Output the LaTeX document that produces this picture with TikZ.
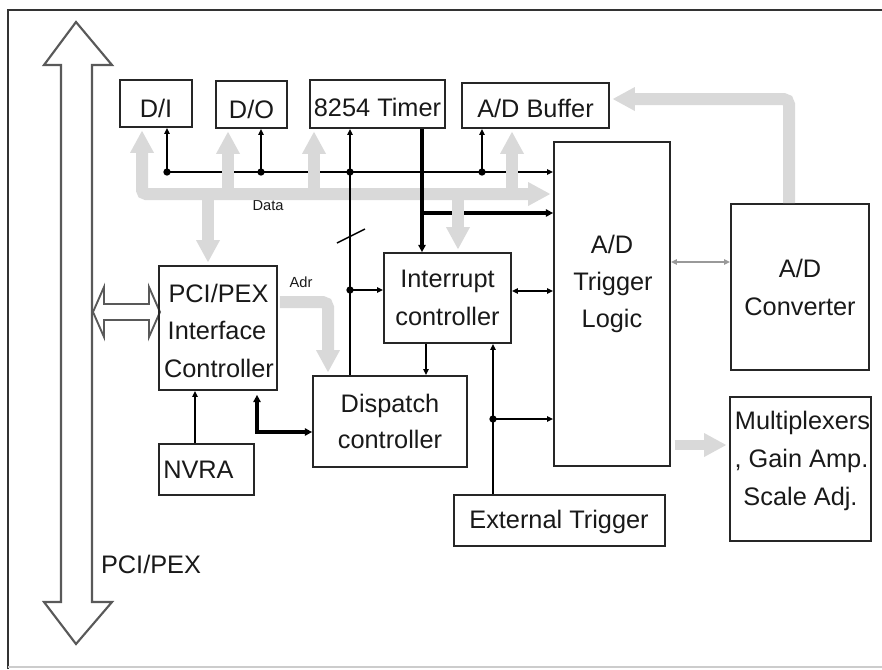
\documentclass[tikz,border=0pt]{standalone}
\usepackage{fontspec}
\setmainfont{Liberation Sans}
\usetikzlibrary{arrows.meta,fit,calc}
\begin{document}
\begin{tikzpicture}[x=0.75pt,y=-0.75pt,
  box/.style={draw=black!85, line width=1.3pt, inner sep=0pt},
  txt/.style={font=\fontsize{19}{19}\selectfont, inner sep=0pt, anchor=base, text=black!90},
  smalltxt/.style={font=\fontsize{11}{11}\selectfont, inner sep=0pt, anchor=base, text=black!90},
  thinline/.style={line width=1.1pt, draw=black},
  thickline/.style={line width=2.4pt, draw=black},
  tp/.tip={Triangle[length=4.5pt,width=4pt]},
  tpk/.tip={Triangle[length=5.5pt,width=5.5pt]},
  bt/.tip={Triangle[width=18pt,length=16.5pt,line width=0pt]},
  bus/.style={draw=gray!30, line width=9pt, shorten >=2.25pt},
  gthin/.style={line width=1.1pt, draw=gray!80},
  dot/.style={circle, fill=black, inner sep=0pt, minimum size=5.5pt}
]
\useasboundingbox (0,0) rectangle (882,669);
% frame
\draw[draw=black!80, line width=2pt] (8,669) -- (8,10) -- (882,10);
\draw[draw=gray!40, line width=1.5pt] (8,667) -- (882,667);
% big PCI/PEX double arrow
\draw[draw=black!65, line width=1.6pt, fill=white, line join=miter]
  (76,22) -- (112,65) -- (92,65) -- (92,602) -- (112,602) -- (76,644)
  -- (44,602) -- (61,602) -- (61,65) -- (44,65) -- cycle;
% small horizontal double arrow
\draw[draw=black!65, line width=1.4pt, fill=white]
  (93,312) -- (104,287) -- (104,304) -- (149,304) -- (149,287) -- (160,312)
  -- (149,337) -- (149,320) -- (104,320) -- (104,337) -- cycle;

% boxes
\node[box, fit={(120,80) (192,127)}] (di) {};
\node[box, fit={(216,81) (287,128)}] (do) {};
\node[box, fit={(310,80) (445,128)}] (tim) {};
\node[box, fit={(462,83) (609,128)}] (buf) {};
\node[box, fit={(554,142) (670,466)}] (trig) {};
\node[box, fit={(731,204) (869,370)}] (conv) {};
\node[box, fit={(730,397) (871,541)}] (mux) {};
\node[box, fit={(454,495) (665,546)}] (ext) {};
\node[box, fit={(384,253) (511,343)}] (intr) {};
\node[box, fit={(313,376) (467,467)}] (disp) {};
\node[box, fit={(159,266) (277,390)}] (pci) {};
\node[box, fit={(159,444) (254,495)}] (nvra) {};

% texts
\node[txt] (tDI) at (156,117) {D/I};
\node[txt] (tDO) at (251.5,118) {D/O};
\node[txt] (tTim) at (377.5,116) {8254 Timer};
\node[txt] (tBuf) at (535.5,117) {A/D Buffer};
\node[txt] (tInt1) at (447.5,287) {Interrupt};
\node[txt] (tInt2) at (447.5,325) {controller};
\node[txt] (tDisp1) at (390,412) {Dispatch};
\node[txt] (tDisp2) at (390,448) {controller};
\node[txt] (tExt) at (559,528) {External Trigger};
\node[txt] (tPci1) at (218.5,302) {PCI/PEX};
\node[txt] (tPci2) at (217,339) {Interface};
\node[txt] (tPci3) at (219,377) {Controller};
\node[txt, anchor=base west] (tNv) at (163,478) {NVRA};
\node[txt] (tTr1) at (612,253) {A/D};
\node[txt] (tTr2) at (613,290) {Trigger};
\node[txt] (tTr3) at (612,327) {Logic};
\node[txt] (tCv1) at (800,277) {A/D};
\node[txt] (tCv2) at (800,315) {Converter};
\node[txt] (tMx1) at (802.5,429) {Multiplexers};
\node[txt] (tMx2) at (801.5,467) {, Gain Amp.};
\node[txt] (tMx3) at (800.5,505) {Scale Adj.};
\node[txt] (tBus) at (151,573) {PCI/PEX};
\node[smalltxt] (tData) at (268,210) {Data};
\node[smalltxt] (tAdr) at (301,287) {Adr};

% coordinates
\coordinate (dDI) at (167,172);
\coordinate (dDO) at (261,172);
\coordinate (dTim) at (350,172);
\coordinate (dBuf) at (482,172);
\coordinate (dInt) at (350,290);
\coordinate (thTop) at (422,129);
\coordinate (thJ) at (422,213);
\coordinate (itY) at (0,291);
\coordinate (idX) at (426,0);
\coordinate (ex) at (493,419);
\coordinate (nvX) at (195,0);
\coordinate (pd) at (257,432);
\coordinate (tcY) at (0,262);
\coordinate (bL) at (142,194);
\coordinate (bDO) at (228,194);
\coordinate (bTim) at (314,194);
\coordinate (bBuf) at (512,194);
\coordinate (bPci) at (208,194);
\coordinate (bInt) at (458,194);
\coordinate (cb) at (789,99);
\coordinate (ad) at (328,302);
\coordinate (tmY) at (0,445);

% horizontal black lines (below the grey buses)
\draw[thinline, -tp] (dDI) -- (dDI -| trig.west);
\draw[thickline, -tpk] (thJ) -- (thJ -| trig.west);

% grey buses
\draw[bus, bt-bt, rounded corners=3pt, shorten <=2.25pt] (bL |- di.south) -- (bL) -- (bL -| trig.west);
\draw[bus, -bt] (bDO) -- (bDO |- do.south);
\draw[bus, -bt] (bTim) -- (bTim |- tim.south);
\draw[bus, -bt] (bBuf) -- (bBuf |- buf.south);
\draw[bus, -bt] (bPci) -- (bPci |- pci.north);
\draw[bus, -bt] (bInt) -- (bInt |- intr.north);
\draw[bus, -bt, rounded corners=4pt] (conv.north -| cb) -- (cb) -- (cb -| buf.east);
\draw[bus, -bt, rounded corners=4pt, shorten <=1.5pt] (pci.east |- ad) -- (ad) -- (ad |- disp.north);
\draw[bus, line width=7.5pt, -bt, shorten <=3pt] (trig.east |- tmY) -- (mux.west |- tmY);

% vertical black lines
\draw[thinline, -tp] (dDI) -- (dDI |- di.south);
\draw[thinline, -tp] (dDO) -- (dDO |- do.south);
\draw[thinline, -tp] (dBuf) -- (dBuf |- buf.south);
\draw[thinline, -tp] (disp.north -| dTim) -- (dTim |- tim.south);
\draw[thinline, -tp] (dInt) -- (dInt -| intr.west);
\draw[thinline] (337,243) -- (365,229);
\draw[thickline, -tpk] (thTop) -- (thTop |- intr.north);
\draw[thinline, tp-tp] (intr.east |- itY) -- (trig.west |- itY);
\draw[thinline, -tp] (intr.south -| idX) -- (disp.north -| idX);
\draw[thinline, -tp] (ext.north -| ex) -- (intr.south -| ex);
\draw[thinline, -tp] (ex) -- (ex -| trig.west);
\draw[thinline, -tp] (nvra.north -| nvX) -- (pci.south -| nvX);
\draw[thickline, tpk-tpk, shorten <=3pt] (pci.south -| pd) -- (pd) -- (pd -| disp.west);
\draw[gthin, tp-tp] (trig.east |- tcY) -- (conv.west |- tcY);

% dots
\node[dot] (k1) at (dDI) {};
\node[dot] (k2) at (dDO) {};
\node[dot] (k3) at (dTim) {};
\node[dot] (k4) at (dBuf) {};
\node[dot] (k5) at (dInt) {};
\node[dot] (k6) at (ex) {};
\end{tikzpicture}
\end{document}
